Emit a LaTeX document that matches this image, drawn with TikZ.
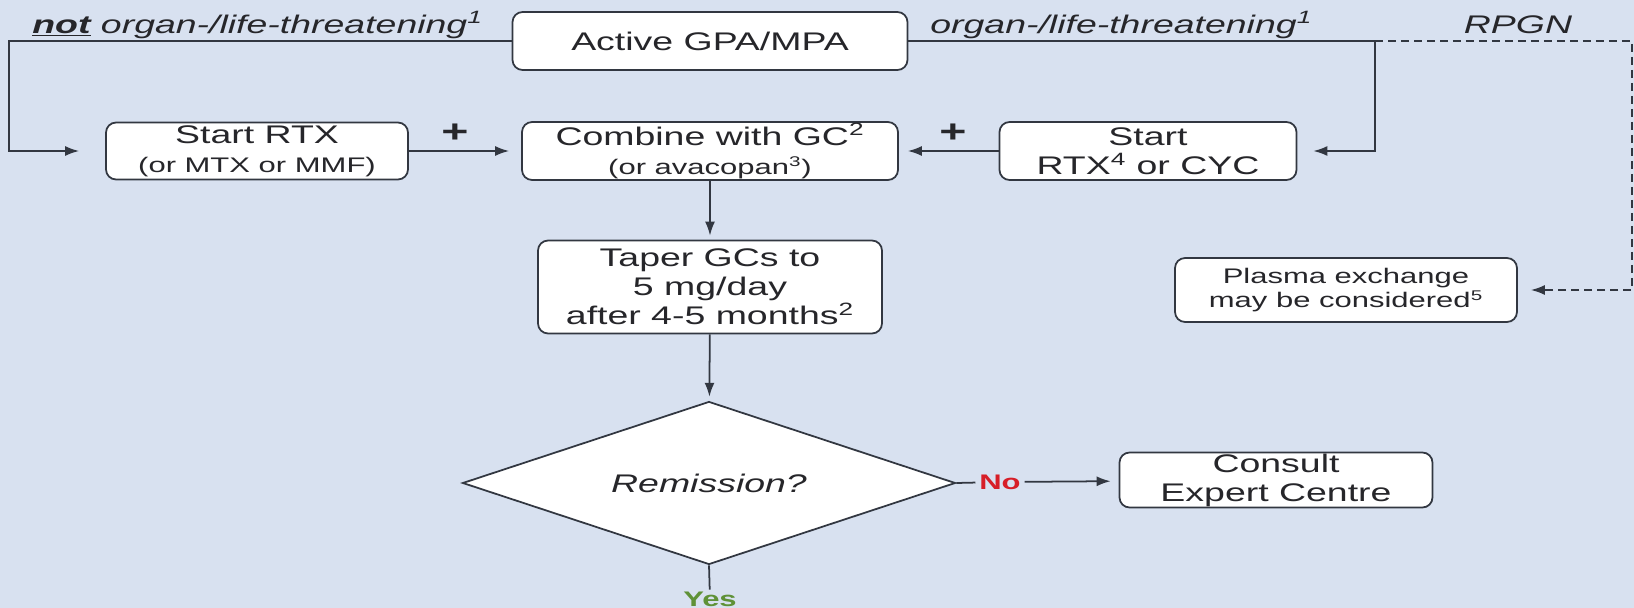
\documentclass[tikz,border=0pt]{standalone}
\usepackage{fontspec}
\setmainfont{Liberation Sans}[FakeStretch=1.47]
\usetikzlibrary{shapes.geometric,arrows.meta}
\definecolor{bgblue}{RGB}{216,225,240}
\definecolor{inkgray}{RGB}{38,38,42}
\definecolor{linegray}{RGB}{50,55,65}
\definecolor{noRed}{RGB}{215,30,40}
\definecolor{yesGreen}{RGB}{95,145,55}
\newcommand{\boxfont}{\fontsize{14.5}{16.5}\selectfont}
\newcommand{\notefont}{\fontsize{12}{14}\selectfont}
\begin{document}
\begin{tikzpicture}[x=0.02cm, y=-0.02cm, >={Latex[length=0.28cm,width=0.2cm]},
  box/.style={draw=linegray, fill=white, rounded corners=0.2cm, line width=1pt,
    text=inkgray, font=\boxfont, align=center, inner sep=0pt},
  tag/.style={text=inkgray, font=\boxfont\itshape, inner sep=0pt},
  plus/.style={text=inkgray, font=\fontsize{18}{18}\selectfont\bfseries, inner sep=0pt},
  wire/.style={draw=linegray, line width=1pt},
  flow/.style={wire, ->, shorten >=0.2cm}]
\fill[bgblue] (0,0) rectangle (1634,608);
\useasboundingbox (0,0) rectangle (1634,608);
\node[box, minimum width=7.9cm, minimum height=1.16cm] (active) at (710,41) {Active GPA/MPA};
\node[box, minimum width=6.04cm, minimum height=1.14cm] (startrtx) at (257,151)
  {Start RTX\\{\notefont (or MTX or MMF)}};
\node[box, minimum width=7.52cm, minimum height=1.16cm] (combine) at (710,151)
  {Combine with GC\textsuperscript{2}\\{\notefont (or avacopan\textsuperscript{3})}};
\node[box, minimum width=5.94cm, minimum height=1.16cm] (startcyc) at (1148,151)
  {Start\\RTX\textsuperscript{4} or CYC};
\node[box, minimum width=6.88cm, minimum height=1.86cm] (taper) at (710,287)
  {Taper GCs to\\5 mg/day\\after 4-5 months\textsuperscript{2}};
\node[box, shape=diamond, sharp corners, aspect=3, minimum width=9.86cm, minimum height=3.26cm]
  (remission) at (709,483) {\textit{Remission?}};
\node[box, minimum width=6.26cm, minimum height=1.1cm] (consult) at (1276,480)
  {Consult\\Expert Centre};
\node[box, font=\notefont, minimum width=6.84cm, minimum height=1.28cm] (plasma) at (1346,290)
  {Plasma exchange\\may be considered\textsuperscript{5}};
\node[tag, anchor=west] (notlbl) at (32,25)
  {\textbf{\underline{not}} organ-/life-threatening\textsuperscript{1}};
\node[tag, anchor=west] (lifelbl) at (930,25) {organ-/life-threatening\textsuperscript{1}};
\node[tag] (rpgn) at (1518,25) {RPGN};
\node[plus] (plusl) at (455,133) {+};
\node[plus] (plusr) at (953,133) {+};
\node[text=noRed, font=\notefont\bfseries, inner sep=2pt] (nolbl) at (1000,482) {No};
\node[text=yesGreen, font=\notefont\bfseries, inner sep=1pt] (yeslbl) at (710,599) {Yes};
\coordinate (lcorner) at (9,41);
\coordinate (rcorner) at (1375,41);
\coordinate (dcorner) at (1632,41);
\draw[flow, shorten >=0.52cm] (active.west) -- (lcorner) |- (startrtx.west);
\draw[flow, shorten >=0.32cm] (active.east) -- (rcorner) |- (startcyc.east);
\draw[flow, dash pattern=on 0.16cm off 0.1cm, shorten >=0.26cm] (rcorner) -- (dcorner) |- (plasma.east);
\draw[flow, shorten >=0.24cm] (startrtx) -- (combine);
\draw[flow, shorten >=0.18cm] (startcyc) -- (combine);
\draw[flow, shorten >=0.08cm] (combine) -- (taper);
\draw[flow, shorten >=0.08cm] (taper) -- (remission);
\draw[wire] (remission.east) -- (nolbl);
\draw[flow, shorten >=0.16cm] (nolbl) -- (consult);
\draw[wire] (remission.south) -- (yeslbl);
\end{tikzpicture}
\end{document}
